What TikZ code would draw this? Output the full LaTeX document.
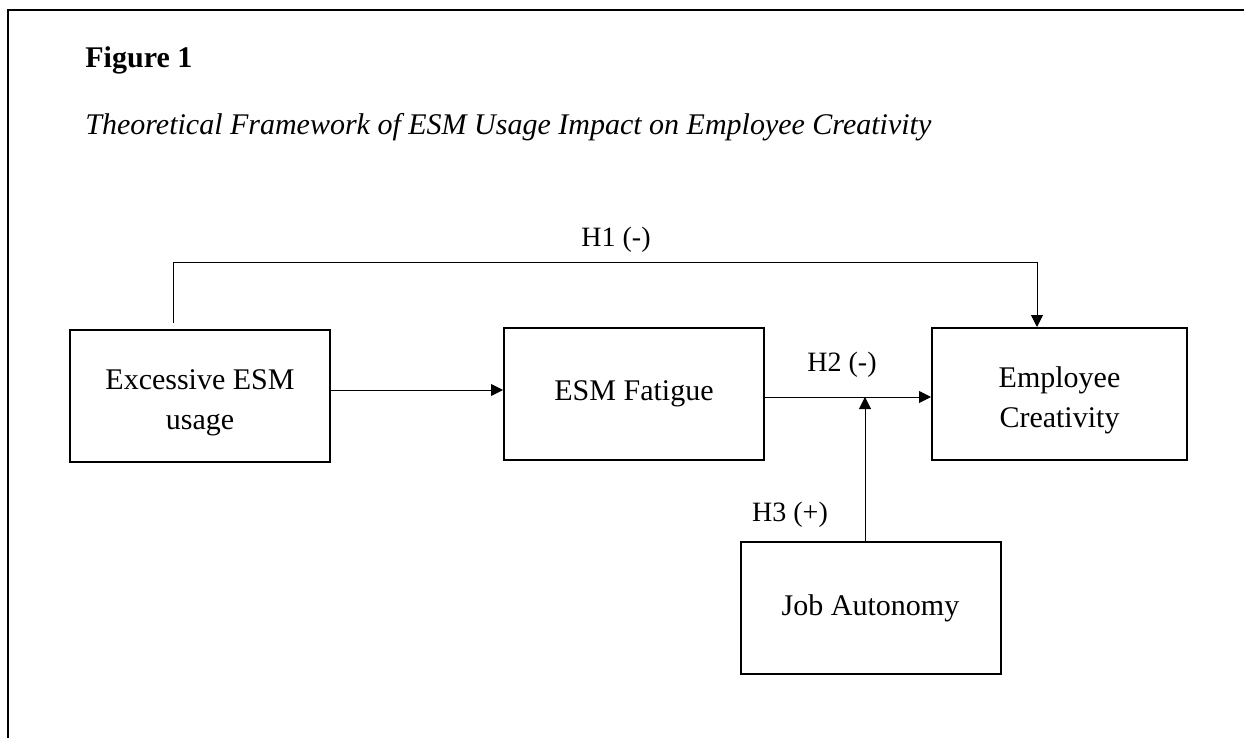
\documentclass[tikz,border=0pt]{standalone}
\usepackage{fontspec}
\setmainfont{Liberation Serif}
\usetikzlibrary{arrows.meta,positioning}
\tikzset{
	varbox/.style={draw,line width=1pt,minimum width=130pt,minimum height=66pt,
		align=center,font=\fontsize{15}{20}\selectfont},
	arr/.style={-{Triangle[length=6pt,width=6pt]},line width=0.5pt},
	hlab/.style={font=\fontsize{14}{16}\selectfont,inner sep=0pt}
}
\begin{document}
\begin{tikzpicture}[x=0.5pt,y=-0.5pt]
			
			\useasboundingbox (0,0) rectangle (1244,738);
			
			% Marc
			\draw[line width=1pt] (8,738) -- (8,10) -- (1244,10);
			
			% Titol
			\node[anchor=base west,inner sep=0pt,font=\fontsize{15}{18}\selectfont\bfseries] (fig) at (85,68) {Figure 1};
			\node[anchor=base west,inner sep=0pt,font=\fontsize{15}{18}\selectfont\itshape] (title) at (85,135)
			{Theoretical Framework of ESM Usage Impact on Employee Creativity};
			
			% Caixes
			\node[varbox] (usage) at (200,396) {\rule{0pt}{17pt}Excessive ESM\\usage};
			\node[varbox] (fat) at (634,394) {ESM Fatigue};
			\node[varbox,minimum width=127.5pt] (creat) at (1059.5,394) {\rule{0pt}{17pt}Employee\\Creativity};
			\node[varbox] (auton) at (870.5,608) {Job Autonomy};
			
			% Punts auxiliars
			\coordinate (h1start) at (173,323);
			\coordinate (h1corner) at (1037,263);
			\coordinate (m1) at (0,390);
			\coordinate (mod) at (865,397);
			
			% H1
			\draw[arr] (h1start) |- (h1corner) -- (h1corner |- creat.north);
			\node[hlab] (h1) at (616,240) {H1 (-)};
			
			% Excessive -> Fatigue
			\draw[arr] (usage.east |- m1) -- (fat.west |- m1);
			
			% H2
			\draw[arr] (fat.east |- mod) -- (creat.west |- mod);
			\node[hlab] (h2) at (842,365) {H2 (-)};
			
			% H3
			\draw[arr] (auton.north -| mod) -- (mod);
			\node[hlab] (h3) at (790,515) {H3 (+)};
			
		\end{tikzpicture}
\end{document}
